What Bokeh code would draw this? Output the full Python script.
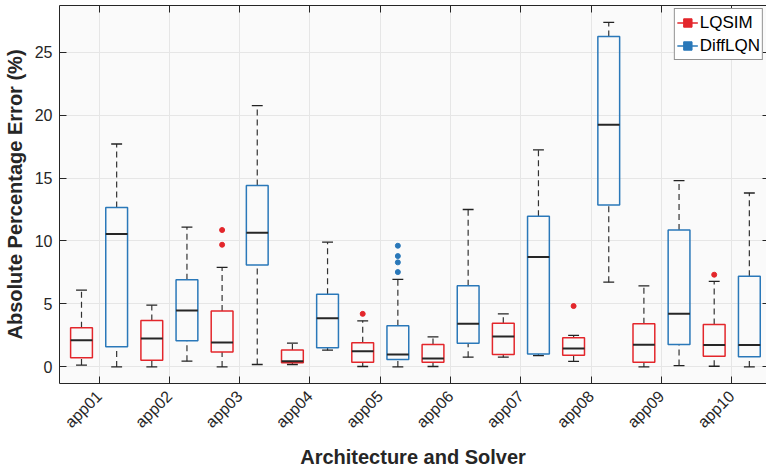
import numpy as np
from bokeh.plotting import figure
from bokeh.models import (Range1d, FixedTicker, LinearAxis, Legend, LegendItem,
                          ColumnDataSource)
from bokeh.embed import file_html
from bokeh.resources import INLINE

# Applications (categories) and box-plot summaries for each solver
apps = ["app01", "app02", "app03", "app04", "app05",
        "app06", "app07", "app08", "app09", "app10"]

lqsim_lo = [0.14, 0.00, 0.00, 0.19, 0.03, 0.03, 0.77, 0.43, 0.00, 0.05]
lqsim_q1 = [0.72, 0.53, 1.19, 0.32, 0.37, 0.37, 0.98, 0.93, 0.37, 0.85]
lqsim_med = [2.12, 2.26, 1.94, 0.45, 1.25, 0.67, 2.41, 1.46, 1.75, 1.73]
lqsim_q3 = [3.10, 3.69, 4.43, 1.35, 1.91, 1.78, 3.47, 2.31, 3.42, 3.37]
lqsim_hi = [6.10, 4.90, 7.90, 1.88, 3.66, 2.39, 4.21, 2.50, 6.44, 6.79]
lqsim_out_app = ["app03", "app03", "app05", "app08", "app10"]
lqsim_out_val = [10.87, 9.70, 4.21, 4.83, 7.32]

diff_lo = [0.00, 0.45, 0.19, 1.33, 0.00, 0.77, 0.90, 6.73, 0.10, 0.00]
diff_q1 = [1.59, 2.07, 8.09, 1.51, 0.59, 1.88, 1.03, 12.86, 1.78, 0.80]
diff_med = [10.55, 4.48, 10.66, 3.87, 0.98, 3.42, 8.72, 19.22, 4.21, 1.73]
diff_q3 = [12.65, 6.92, 14.40, 5.76, 3.26, 6.44, 11.96, 26.24, 10.87, 7.19]
diff_hi = [17.70, 11.10, 20.75, 9.90, 6.95, 12.50, 17.23, 27.36, 14.79, 13.81]
diff_out_app = ["app05", "app05", "app05", "app05"]
diff_out_val = [9.62, 8.80, 8.30, 7.53]

y_ticks = [0, 5, 10, 15, 20, 25]

RED = "#e3262b"
BLUE = "#2a78b9"
TXT = "#262626"
FONT = "Liberation Sans"

BOX_W = 0.31
CAP_W = 0.155
OFFSET = 0.25

pos = np.arange(1, len(apps) + 1)

p = figure(width=766, height=470, output_backend="svg", toolbar_location=None,
           x_range=Range1d(0.437, 10.494), y_range=Range1d(-1.32, 28.7),
           min_border_left=57, min_border_right=0, min_border_top=5,
           min_border_bottom=87)
p.background_fill_color = "#fafafa"
p.border_fill_color = "white"
p.outline_line_color = None


def draw_series(shift, lo, q1, med, q3, hi, out_app, out_val, color):
    x = pos + shift
    src = ColumnDataSource(dict(
        x=x, lo=lo, q1=q1, med=med, q3=q3, hi=hi,
        bl=x - BOX_W / 2, br=x + BOX_W / 2,
        cl=x - CAP_W / 2, cr=x + CAP_W / 2))
    # dashed whiskers
    p.segment(x0="x", x1="x", y0="q3", y1="hi", source=src,
              line_color="#333333", line_width=1.2, line_dash="6 4")
    p.segment(x0="x", x1="x", y0="lo", y1="q1", source=src,
              line_color="#333333", line_width=1.2, line_dash="6 4")
    # whisker caps
    p.segment(x0="cl", x1="cr", y0="hi", y1="hi", source=src,
              line_color="#222222", line_width=1.3)
    p.segment(x0="cl", x1="cr", y0="lo", y1="lo", source=src,
              line_color="#222222", line_width=1.3)
    # boxes
    p.quad(left="bl", right="br", bottom="q1", top="q3", source=src,
           fill_color=None, line_color=color, line_width=1.5)
    # medians
    p.segment(x0="bl", x1="br", y0="med", y1="med", source=src,
              line_color=TXT, line_width=2)
    # outliers
    ox = [apps.index(a) + 1 + shift for a in out_app]
    p.scatter(ox, out_val, size=5, color=color, line_color=color)


draw_series(-OFFSET, lqsim_lo, lqsim_q1, lqsim_med, lqsim_q3, lqsim_hi,
            lqsim_out_app, lqsim_out_val, RED)
draw_series(OFFSET, diff_lo, diff_q1, diff_med, diff_q3, diff_hi,
            diff_out_app, diff_out_val, BLUE)

# legend key glyphs: a line with a small square marker (NaN rows draw nothing
# in the plot area, only in the legend)
nan_src = ColumnDataSource(dict(x=[np.nan], y=[np.nan]))
r_line = p.line("x", "y", source=nan_src, line_color=RED, line_width=1.6)
r_sq = p.scatter("x", "y", source=nan_src, marker="square", size=4, color=RED)
b_line = p.line("x", "y", source=nan_src, line_color=BLUE, line_width=1.6)
b_sq = p.scatter("x", "y", source=nan_src, marker="square", size=4, color=BLUE)
legend = Legend(items=[LegendItem(label="LQSIM", renderers=[r_line, r_sq]),
                       LegendItem(label="DiffLQN", renderers=[b_line, b_sq])],
                location="top_right", margin=3, padding=2, spacing=0,
                glyph_width=21, glyph_height=23, label_height=23,
                label_standoff=2,
                label_text_font=FONT, label_text_font_size="17px",
                label_text_color="black",
                border_line_color="#262626", border_line_width=1,
                background_fill_color="white", background_fill_alpha=1)
p.add_layout(legend)

# axes
xt = FixedTicker(ticks=list(pos))
yt = FixedTicker(ticks=y_ticks)

xa = p.xaxis[0]
xa.ticker = xt
xa.major_label_overrides = {int(i): a for i, a in zip(pos, apps)}
xa.major_label_orientation = np.pi / 4
xa.axis_label = "Architecture and Solver"

ya = p.yaxis[0]
ya.ticker = yt
ya.axis_label = "Absolute Percentage Error (%)"

for ax in (xa, ya):
    ax.major_tick_in = 7
    ax.major_tick_out = 0
    ax.minor_tick_line_color = None
    ax.axis_line_color = TXT
    ax.major_tick_line_color = TXT
    ax.major_label_text_font = FONT
    ax.major_label_text_font_size = "16px"
    ax.major_label_text_color = TXT
    ax.axis_label_text_font = FONT
    ax.axis_label_text_font_size = "20px"
    ax.axis_label_text_font_style = "bold"
    ax.axis_label_text_color = TXT
ya.major_label_standoff = 7
ya.axis_label_standoff = 6
xa.major_label_standoff = 10
xa.axis_label_standoff = 6

# box outline: tick marks only on the top and right edges
top = LinearAxis(ticker=xt, major_tick_in=7, major_tick_out=0,
                 major_label_text_font_size="1px", major_label_text_color=None,
                 major_label_standoff=0,
                 axis_line_color=TXT, major_tick_line_color=TXT,
                 minor_tick_line_color=None)
right = LinearAxis(ticker=yt, major_tick_in=4, major_tick_out=0,
                   major_label_text_font_size="1px", major_label_text_color=None,
                   major_label_standoff=0,
                   axis_line_color=None, major_tick_line_color=TXT,
                   minor_tick_line_color=None)
p.add_layout(top, "above")
p.add_layout(right, "right")

p.xgrid.ticker = xt
p.ygrid.ticker = yt
p.grid.grid_line_color = "#e6e6e6"
p.grid.grid_line_width = 1

open("out.html", "w").write(file_html(p, INLINE))
